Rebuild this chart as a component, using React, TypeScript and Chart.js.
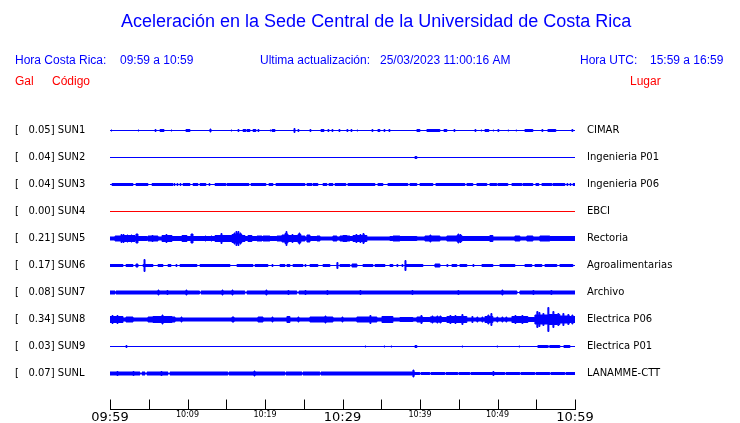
import React, { useEffect, useRef } from 'react';
import { Chart, registerables } from 'chart.js';

Chart.register(...registerables);

const TITLE = 'Aceleración en la Sede Central de la Universidad de Costa Rica';
const CR_LABEL = 'Hora Costa Rica:';
const CR_RANGE = '09:59 a 10:59';
const UPDATE_LABEL = 'Ultima actualización:';
const UPDATE_VALUE = '25/03/2023 11:00:16 AM';
const UTC_LABEL = 'Hora UTC:';
const UTC_RANGE = '15:59 a 16:59';
const COL_GAL = 'Gal';
const COL_CODE = 'Código';
const COL_PLACE = 'Lugar';

const CODES = ['SUN1', 'SUN2', 'SUN3', 'SUN4', 'SUN5', 'SUN6', 'SUN7', 'SUN8', 'SUN9', 'SUNL'];
const PEAKS = ['0.05', '0.04', '0.04', '0.00', '0.21', '0.17', '0.08', '0.34', '0.03', '0.07'];
const PLACES = ['CIMAR', 'Ingenieria P01', 'Ingenieria P06', 'EBCI', 'Rectoria', 'Agroalimentarias', 'Archivo', 'Electrica P06', 'Electrica P01', 'LANAMME-CTT'];
const TRACE_COLORS = ['#0000ff', '#0000ff', '#0000ff', '#ff0000', '#0000ff', '#0000ff', '#0000ff', '#0000ff', '#0000ff', '#0000ff'];

// minutes after 09:59
const TIME_TICKS = [0, 5, 10, 15, 20, 25, 30, 35, 40, 45, 50, 55, 60];
const TIME_LABEL_AT = [0, 10, 20, 30, 40, 50, 60];
const TIME_LABELS = ['09:59', '10:09', '10:19', '10:29', '10:39', '10:49', '10:59'];
const MAJOR_TIMES = [0, 30, 60];

// Envelope of each trace: [minute, half-amplitude] steps (amplitude holds until next step)
const SUN1: [number, number][] = [[0,0],[0.13,0.5],[0.26,0],[3.61,0.5],[3.74,0],[5.81,1],[5.94,0],[6.45,1],[6.97,0],[7.87,0.5],[8.0,0],[9.8,1],[10.32,0],[12.9,1.5],[13.03,0],[15.61,0.5],[15.74,0],[16.51,1],[16.64,0],[17.16,1],[17.54,0],[17.67,1],[18.06,0],[18.45,1],[18.83,0],[19.09,1],[19.22,0],[20.64,0.5],[20.77,0],[20.9,1],[21.29,0],[23.74,2],[23.87,0],[24.25,1],[24.38,0],[25.8,1],[25.93,0],[27.22,1],[27.61,0],[28.12,1],[28.25,0],[28.64,1],[28.77,0],[29.54,1],[29.67,0],[30.57,1],[30.7,0],[31.09,1],[31.22,0],[31.86,0.5],[31.99,0],[33.8,1],[33.93,0],[34.57,1],[34.83,0],[35.35,1],[35.48,0],[35.99,1],[36.12,0],[39.6,1],[39.99,0],[40.89,1],[42.57,0],[43.09,1],[43.47,0],[44.38,1],[44.51,0],[47.09,1],[47.22,0],[47.86,0.5],[47.99,0],[48.38,1],[48.89,0],[49.41,0.5],[49.54,0],[50.05,1],[50.18,0],[51.34,0.5],[51.47,0],[52.37,0.5],[52.5,0],[53.54,1],[54.57,0],[55.73,1],[55.86,0],[56.5,1],[57.53,0],[59.6,1],[59.73,0],[60,0]];
const SUN2: [number, number][] = [[0,0],[39.35,1],[39.6,0],[60,0]];
const SUN3: [number, number][] = [[0,0],[0.26,1],[2.97,0],[3.35,1],[4.9,0],[5.42,1],[8.13,0],[8.26,1],[8.39,0],[8.64,1],[8.77,0],[9.03,1],[9.16,0],[9.42,1],[10.32,0],[10.71,1],[11.35,0],[11.61,1],[12.38,0],[12.77,1],[12.9,0],[13.55,1],[14.96,0],[15.09,1],[17.93,0],[18.19,1],[20.12,0],[20.51,1],[21.03,0],[21.41,1],[25.16,0],[25.41,1],[26.06,0],[26.19,1],[26.83,0],[27.48,1],[27.99,0],[28.25,1],[28.77,0],[29.03,1],[30.44,0],[30.7,1],[34.19,0],[34.57,1],[35.22,0],[35.86,1],[38.44,0],[38.7,1],[39.6,0],[39.99,1],[41.67,0],[42.05,1],[45.8,0],[46.05,1],[46.83,0],[47.34,1],[48.63,0],[49.02,1],[49.92,0],[50.05,1],[51.34,0],[51.86,1],[53.15,0],[53.28,1],[54.57,0],[54.95,1],[55.34,0],[55.73,1],[57.02,0],[57.15,1],[58.7,0],[58.96,1],[59.09,0],[59.35,1],[59.48,0],[59.74,1],[60,1]];
const SUN4: [number, number][] = [[0,0],[60,0]];
const SUN5: [number, number][] = [[0,1.5],[0.65,2.5],[1.42,4],[1.55,3],[1.68,4],[1.81,3],[2.19,3.5],[2.32,3],[2.71,3.5],[2.84,3],[3.23,2],[3.35,4.5],[3.61,2],[4.77,1.5],[4.9,2.5],[5.42,3],[5.55,2.5],[6.19,1.5],[6.71,3],[7.22,4],[7.35,3],[8.0,2],[9.29,3],[9.93,2],[10.45,4.5],[10.71,2],[12.26,2.5],[12.38,2],[13.03,2.5],[13.16,2],[13.55,3],[14.32,5],[14.45,3],[15.74,4],[16.0,5.5],[16.13,4],[16.25,7],[16.38,5],[16.51,7],[16.64,4],[16.77,5.5],[16.9,4],[17.03,3],[17.42,2],[17.8,3],[18.32,2],[18.96,2.5],[19.61,2],[19.74,2.5],[20.64,2],[21.54,2.5],[22.19,3.5],[22.58,5],[22.71,7],[22.83,4.5],[22.96,3],[23.48,4],[23.61,3],[24.25,4],[24.38,5.5],[24.51,4],[24.64,2.5],[25.16,1.5],[25.41,3.5],[25.8,2],[26.7,2.5],[27.09,1.5],[28.77,2.5],[29.28,1.5],[29.67,2.5],[30.06,3],[30.57,2.5],[30.96,2],[31.35,3],[31.73,4],[31.86,3],[32.25,4],[32.38,3],[32.64,5],[32.77,3.5],[32.9,3],[33.15,1.5],[36.12,2],[36.51,2.5],[37.41,2],[39.6,1.5],[40.64,2.5],[41.28,3.5],[41.41,2.5],[42.57,1.5],[43.47,2.5],[44.76,3],[44.89,4.5],[45.02,3],[45.15,4],[45.28,3],[45.41,2],[49.02,3],[49.41,1.5],[52.25,2.5],[52.89,1.5],[53.79,2.5],[54.57,1.5],[55.47,2.5],[56.76,2],[60,2]];
const SUN6: [number, number][] = [[0,1],[1.68,0],[2.06,1],[2.97,0],[3.35,1.5],[3.61,0],[4.26,1],[4.39,6],[4.52,1],[5.55,0],[6.19,1],[6.84,0],[7.48,1],[7.87,0],[8.51,1],[8.64,0],[9.03,1],[11.22,0],[11.61,1],[15.48,0],[16.38,1],[18.45,0],[18.71,1],[20.38,0],[20.9,1],[21.03,0],[21.93,1],[22.58,0],[22.83,1],[23.22,0],[23.61,1],[24.9,0],[25.16,1],[25.29,0],[25.8,1],[26.83,0],[27.48,1],[28.38,0],[29.28,3],[29.41,0],[29.67,1],[30.96,0],[31.22,1.5],[31.86,0],[32.64,1],[33.93,0],[34.19,1],[35.48,0],[36.12,1],[36.51,0],[37.02,1],[37.15,0],[37.67,1],[37.8,0],[38.06,5],[38.19,1],[40.38,0],[41.93,1.5],[42.57,0],[43.47,1],[43.6,0],[44.12,1],[44.76,0],[45.15,1],[46.05,0],[46.83,1],[46.96,0],[47.99,1],[49.41,0],[50.31,1],[52.25,0],[53.54,1],[54.44,0],[54.83,1],[55.73,0],[56.12,1],[57.66,0],[58.05,1],[59.73,0],[60,0]];
const SUN7: [number, number][] = [[0,1.5],[0.65,0],[0.77,1.5],[6.19,2.5],[6.32,1.5],[7.35,2],[7.48,1.5],[9.8,2.5],[9.93,1.5],[11.55,0],[11.74,1.5],[14.45,2.5],[14.58,1.5],[15.74,2.5],[15.87,1.5],[17.41,0],[17.67,1.5],[20.12,2.5],[20.25,1.5],[22.96,2],[23.09,1.5],[24.12,0],[24.38,1.5],[25.16,2],[25.29,1.5],[27.99,2],[28.12,1.5],[32.25,2],[32.38,1.5],[38.96,2],[39.09,1.5],[44.89,2],[45.02,1.5],[50.57,2.5],[50.7,1.5],[52.51,0],[52.89,1.5],[54.57,2],[54.7,1.5],[56.89,2],[57.02,1.5],[60,1.5]];
const SUN8: [number, number][] = [[0,3],[0.26,4],[0.39,3],[0.9,4],[1.03,3],[1.68,1.5],[2.06,2.5],[2.97,1.5],[4.9,2.5],[5.55,3],[6.71,4.5],[6.84,3],[8.0,2.5],[8.39,1.5],[9.16,2.5],[9.29,1.5],[15.74,2.5],[16.0,1.5],[19.09,2.5],[19.74,1.5],[20.9,2.5],[21.03,1.5],[22.83,3],[23.22,1.5],[24.25,2.5],[24.38,1.5],[25.8,2.5],[27.74,3.5],[27.87,2.5],[28.77,1.5],[29.93,2.5],[30.06,1.5],[31.86,2.5],[33.54,4],[33.67,2.5],[34.44,1.5],[35.09,3],[36.51,1.5],[37.41,2],[39.09,1.5],[39.6,2.5],[40.12,4],[40.25,2.5],[40.38,2],[41.28,2.5],[41.54,3.5],[41.67,2.5],[42.18,3.5],[42.31,2.5],[42.57,3.5],[42.7,2.5],[42.83,2],[43.47,3],[43.86,4],[43.99,3],[44.51,4],[44.64,3],[45.41,5],[45.54,3],[46.05,1.5],[46.7,3],[46.83,1.5],[47.34,2.5],[47.47,1.5],[47.99,2.5],[48.12,1.5],[48.38,3],[48.76,4.5],[48.89,3],[49.15,6],[49.28,3],[49.41,1.5],[49.92,2.5],[50.05,1.5],[50.57,2.5],[50.7,1.5],[51.08,2.5],[51.21,1.5],[51.86,3],[52.25,4],[52.38,3],[53.15,4],[53.28,3],[53.92,2],[54.83,4.5],[55.08,8],[55.21,4.5],[55.34,7],[55.47,4.5],[55.86,6],[55.99,4.5],[56.5,12],[56.63,5],[57.15,8],[57.28,5],[57.79,6],[57.92,5],[58.05,3.5],[58.44,6],[58.57,3.5],[59.08,5],[59.21,3.5],[59.35,3],[59.6,4.5],[59.73,3],[60,3]];
const SUN9: [number, number][] = [[0,0],[2.06,1],[2.19,0],[32.9,0.5],[33.03,0],[35.35,0.5],[35.48,0],[36.25,0.5],[36.38,0],[39.35,1],[39.6,0],[45.41,0.5],[45.54,0],[49.92,0.5],[50.05,0],[52.76,0.5],[52.89,0],[55.21,1],[56.5,0.5],[56.76,1],[58.05,0],[58.57,1],[59.35,0],[60,0]];
const SUNL: [number, number][] = [[0,1.5],[0.9,2],[1.03,1.5],[2.97,2],[3.1,1.5],[3.87,0],[4.13,1.5],[4.52,0],[4.77,1.5],[6.58,2],[6.71,1.5],[7.48,0],[7.74,1.5],[15.22,0],[15.35,1.5],[18.58,2.5],[18.71,1.5],[22.58,0],[22.71,1.5],[24.77,0],[24.9,1.5],[27.09,0],[27.22,1.5],[39.09,3.5],[39.22,1.5],[39.35,1],[39.99,0],[40.12,1],[41.28,0],[41.41,1],[43.22,0],[43.35,1],[44.89,0],[45.02,1],[46.44,0],[46.57,1],[49.41,2],[49.54,1],[50.96,0],[51.09,1],[52.89,0],[53.02,1],[54.83,0],[54.96,1],[56.76,0],[56.89,1],[58.7,0],[58.83,1],[60,1]];

const TRACES = [SUN1, SUN2, SUN3, SUN4, SUN5, SUN6, SUN7, SUN8, SUN9, SUNL];

// layout constants
const ROW_PX = 27;
const AREA_TOP = 103;
const AREA_BOTTOM = 409;
const FIRST_ROW_PX = 130.5;
const Y_MIN = -(FIRST_ROW_PX - AREA_TOP) / ROW_PX;
const Y_MAX = Y_MIN + (AREA_BOTTOM - AREA_TOP) / ROW_PX;
const AMP_UNIT = 1 / ROW_PX;

const BLUE = '#0000ff';
const RED = '#ff0000';

const headerPlugin = {
  id: 'seisHeader',
  afterDraw(chart: any) {
    const ctx = chart.ctx as CanvasRenderingContext2D;
    ctx.save();
    ctx.textBaseline = 'middle';
    ctx.textAlign = 'left';
    ctx.fillStyle = BLUE;
    ctx.font = "18px 'Liberation Sans', Arial, sans-serif";
    ctx.fillText(TITLE, 121, 22);
    ctx.font = "12px 'Liberation Sans', Arial, sans-serif";
    ctx.fillText(CR_LABEL, 15, 61);
    ctx.fillText(CR_RANGE, 120, 61);
    ctx.fillText(UPDATE_LABEL, 260, 61);
    ctx.fillText(UPDATE_VALUE, 380, 61);
    ctx.fillText(UTC_LABEL, 580, 61);
    ctx.fillText(UTC_RANGE, 650, 61);
    ctx.fillStyle = RED;
    ctx.fillText(COL_GAL, 15, 82);
    ctx.fillText(COL_CODE, 52, 82);
    ctx.fillText(COL_PLACE, 630, 82);

    // time axis with upward ticks
    const xs = chart.scales.x;
    const yAxis = chart.chartArea.bottom + 0.5;
    ctx.strokeStyle = '#000';
    ctx.lineWidth = 1;
    ctx.beginPath();
    ctx.moveTo(xs.left, yAxis);
    ctx.lineTo(xs.right + 1, yAxis);
    xs.ticks.forEach((tk: any) => {
      const px = Math.round(xs.getPixelForValue(tk.value)) + 0.5;
      ctx.moveTo(px, yAxis - 10);
      ctx.lineTo(px, yAxis);
    });
    ctx.stroke();
    ctx.restore();
  },
};

const noVerticalPadding = (s: any) => {
  s.paddingTop = 0;
  s.paddingBottom = 0;
};

export default function App() {
  const ref = useRef<HTMLCanvasElement | null>(null);

  useEffect(() => {
    if (!ref.current) return;
    const datasets: any[] = [];
    TRACES.forEach((trace, i) => {
      const color = TRACE_COLORS[i];
      datasets.push({
        data: trace.map(([t, a]) => ({ x: t, y: i - a * AMP_UNIT })),
        borderColor: color,
        backgroundColor: color,
        borderWidth: 1,
        fill: '+1',
        stepped: true,
        pointRadius: 0,
        yAxisID: 'y',
      });
      datasets.push({
        data: trace.map(([t, a]) => ({ x: t, y: i + a * AMP_UNIT })),
        borderColor: color,
        backgroundColor: color,
        borderWidth: 1,
        fill: false,
        stepped: true,
        pointRadius: 0,
        yAxisID: 'y',
      });
    });

    const rowTicks = CODES.map((_, i) => ({ value: i }));

    const chart = new Chart(ref.current, {
      type: 'line',
      data: { datasets },
      plugins: [headerPlugin],
      options: {
        animation: false,
        responsive: false,
        maintainAspectRatio: false,
        devicePixelRatio: 1,
        events: [],
        layout: { padding: { left: 15, top: AREA_TOP, right: 0, bottom: 0 } },
        plugins: {
          legend: { display: false },
          tooltip: { enabled: false },
          title: { display: false },
        },
        scales: {
          x: {
            type: 'linear',
            position: 'bottom',
            min: 0,
            max: 60,
            grid: { display: false, drawTicks: false },
            border: { display: false },
            afterBuildTicks: (s: any) => { s.ticks = TIME_TICKS.map((v) => ({ value: v })); },
            afterFit: (s: any) => { s.height = 423 - AREA_BOTTOM; },
            ticks: {
              autoSkip: false,
              maxRotation: 0,
              minRotation: 0,
              padding: 1,
              color: '#000',
              font: (c: any) => ({
                family: "'DejaVu Sans', sans-serif",
                size: c.tick && MAJOR_TIMES.includes(c.tick.value) ? 13 : 8,
              }),
              callback: (v: any) => {
                const k = TIME_LABEL_AT.indexOf(Number(v));
                return k >= 0 ? TIME_LABELS[k] : '';
              },
            },
          },
          y: {
            type: 'linear',
            position: 'left',
            reverse: true,
            min: Y_MIN,
            max: Y_MAX,
            grid: { display: false, drawTicks: false },
            border: { display: false },
            afterBuildTicks: (s: any) => { s.ticks = rowTicks.map((t) => ({ ...t })); },
            afterFit: (s: any) => { s.width = 95; noVerticalPadding(s); },
            ticks: {
              crossAlign: 'far',
              color: '#000',
              padding: 0,
              font: { family: "'DejaVu Sans', sans-serif", size: 10 },
              callback: (v: any) => `[   ${PEAKS[Number(v)]}] ${CODES[Number(v)]}`,
            },
          },
          y2: {
            type: 'linear',
            position: 'right',
            reverse: true,
            min: Y_MIN,
            max: Y_MAX,
            grid: { display: false, drawTicks: false },
            border: { display: false },
            afterBuildTicks: (s: any) => { s.ticks = rowTicks.map((t) => ({ ...t })); },
            afterFit: (s: any) => { s.width = 165; noVerticalPadding(s); },
            ticks: {
              color: '#000',
              padding: 12,
              font: { family: "'DejaVu Sans', sans-serif", size: 10 },
              callback: (v: any) => PLACES[Number(v)],
            },
          },
        },
      } as any,
    });
    return () => chart.destroy();
  }, []);

  return (
    <div style={{ position: 'absolute', left: 0, top: 0, width: 740, height: 423, background: '#fff' }}>
      <canvas ref={ref} width={740} height={423} style={{ display: 'block', width: 740, height: 423 }} />
    </div>
  );
}
